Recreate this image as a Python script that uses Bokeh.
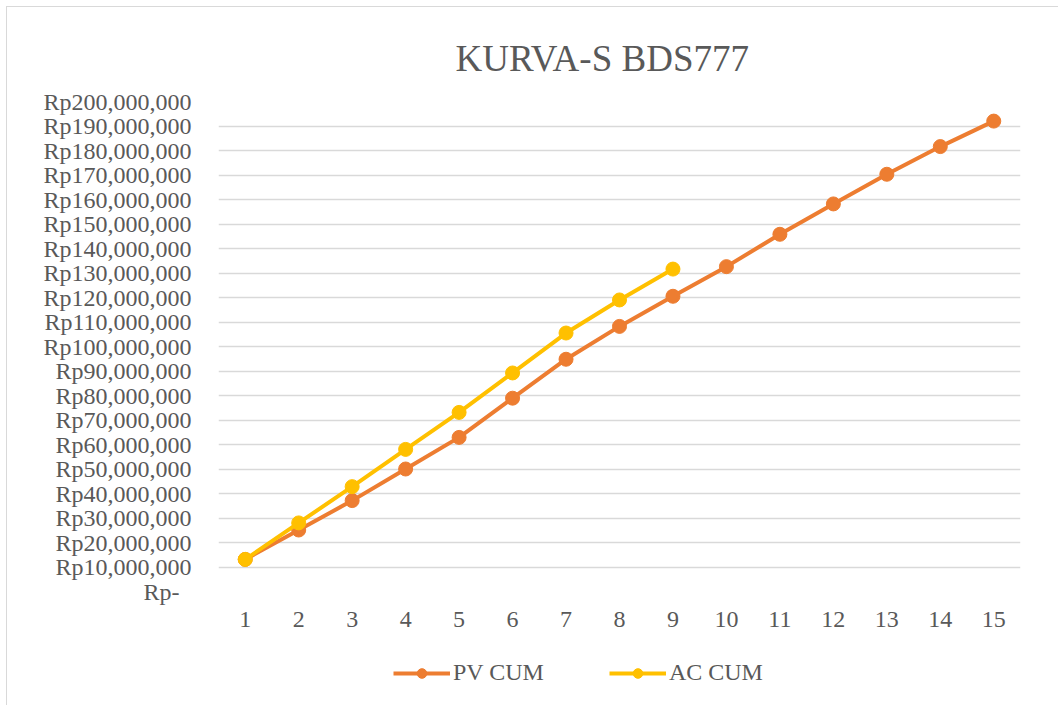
from bokeh.plotting import figure
from bokeh.layouts import column
from bokeh.models import Range1d, FixedTicker, Legend
from bokeh.embed import file_html
from bokeh.resources import INLINE

categories = [str(i) for i in range(1, 16)]
pv_cum = [13.1e6, 25.1e6, 37.1e6, 50.0e6, 62.9e6, 78.9e6, 94.8e6, 108.2e6,
          120.5e6, 132.6e6, 145.8e6, 158.2e6, 170.3e6, 181.6e6, 192.0e6]
ac_categories = [str(i) for i in range(1, 10)]
ac_cum = [13.1e6, 28.0e6, 42.8e6, 58.0e6, 73.1e6, 89.2e6, 105.5e6, 119.0e6, 131.6e6]
series_names = ["PV CUM", "AC CUM"]

y_ticks = [0, 10e6, 20e6, 30e6, 40e6, 50e6, 60e6, 70e6, 80e6, 90e6, 100e6,
           110e6, 120e6, 130e6, 140e6, 150e6, 160e6, 170e6, 180e6, 190e6, 200e6]
y_labels = ["Rp-\u00a0\u00a0", "Rp10,000,000", "Rp20,000,000", "Rp30,000,000",
            "Rp40,000,000", "Rp50,000,000", "Rp60,000,000", "Rp70,000,000",
            "Rp80,000,000", "Rp90,000,000", "Rp100,000,000", "Rp110,000,000",
            "Rp120,000,000", "Rp130,000,000", "Rp140,000,000", "Rp150,000,000",
            "Rp160,000,000", "Rp170,000,000", "Rp180,000,000", "Rp190,000,000",
            "Rp200,000,000"]

FONT = "Liberation Serif"
TXT = "#595959"
PV_COLOR = "#ED7D31"
AC_COLOR = "#FFC000"
BORDER = "1px solid #d9d9d9"

# ---------------- main chart ----------------
p = figure(width=1052, height=633, x_range=categories,
           y_range=Range1d(0, 200e6), output_backend="svg",
           toolbar_location=None, title="KURVA-S BDS777",
           min_border_left=211, min_border_right=39,
           min_border_top=94, min_border_bottom=49)
p.margin = (6, 0, 0, 6)
p.styles = {"border-left": BORDER, "border-top": BORDER}
p.outline_line_color = None
p.background_fill_color = "white"
p.border_fill_color = "white"

p.title.text_font = FONT
p.title.text_font_size = "37px"
p.title.text_font_style = "normal"
p.title.text_color = TXT
p.title.align = "left"
p.title.offset = 237
p.title.standoff = 46

p.yaxis.ticker = FixedTicker(ticks=y_ticks)
p.yaxis.major_label_overrides = {t: l for t, l in zip(y_ticks, y_labels)}
p.yaxis.major_label_text_font = FONT
p.yaxis.major_label_text_font_size = "24px"
p.yaxis.major_label_text_color = TXT
p.yaxis.major_label_standoff = 27
p.yaxis.axis_line_color = None
p.yaxis.major_tick_line_color = None
p.yaxis.minor_tick_line_color = None
p.yaxis.major_tick_out = 0

p.xaxis.major_label_text_font = FONT
p.xaxis.major_label_text_font_size = "24px"
p.xaxis.major_label_text_color = TXT
p.xaxis.major_label_standoff = 20
p.xaxis.axis_line_color = None
p.xaxis.major_tick_line_color = None
p.xaxis.major_tick_out = 0

p.xgrid.grid_line_color = None
p.ygrid.grid_line_color = "#D9D9D9"
p.ygrid.grid_line_width = 1.5

p.line(categories, pv_cum, line_color=PV_COLOR, line_width=4)
p.scatter(categories, pv_cum, size=14, fill_color=PV_COLOR, line_color=PV_COLOR)
p.line(ac_categories, ac_cum, line_color=AC_COLOR, line_width=4)
p.scatter(ac_categories, ac_cum, size=14, fill_color=AC_COLOR, line_color=AC_COLOR)

# ---------------- legend strip ----------------
q = figure(width=1052, height=66, x_range=Range1d(0, 1), y_range=Range1d(0, 1),
           output_backend="svg", toolbar_location=None,
           x_axis_type=None, y_axis_type=None,
           min_border_left=0, min_border_right=0, min_border_top=0, min_border_bottom=0)
q.margin = (0, 0, 0, 6)
q.styles = {"border-left": BORDER}
q.outline_line_color = None
q.grid.visible = False
q.background_fill_color = "white"
q.border_fill_color = "white"

# legend proxies: one value each, far outside the strip's 0..1 range, so only the key shows
items = []
for name, color, vals in zip(series_names, [PV_COLOR, AC_COLOR], [pv_cum, ac_cum]):
    ln = q.line([vals[0]], [vals[0]], line_color=color, line_width=4)
    pt = q.scatter([vals[0]], [vals[0]], size=14, fill_color=color, line_color=color)
    items.append((name, [ln, pt]))

legend = Legend(items=items, orientation="horizontal", location=(175, 19))
legend.label_text_font = FONT
legend.label_text_font_size = "24px"
legend.label_text_color = TXT
legend.glyph_width = 57
legend.glyph_height = 24
legend.label_standoff = 3
legend.spacing = 65
legend.padding = 0
legend.margin = 0
legend.border_line_color = None
legend.background_fill_alpha = 0
q.add_layout(legend, "center")

layout = column(p, q, spacing=0)
open("out.html", "w").write(file_html(layout, INLINE))
